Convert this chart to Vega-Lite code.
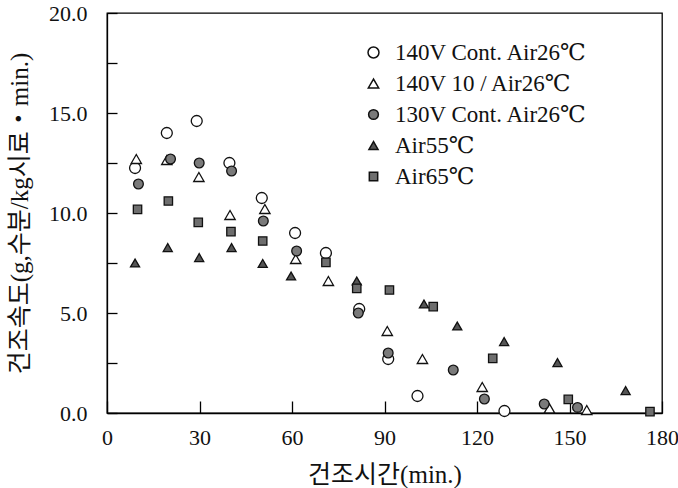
{
  "$schema": "https://vega.github.io/schema/vega-lite/v6.json",
  "width": 555,
  "height": 400,
  "autosize": "none",
  "padding": {"left": 107, "top": 13, "right": 16, "bottom": 75},
  "background": "white",
  "config": {
    "view": {"stroke": "black", "strokeWidth": 1.3},
    "axis": {"labelFont": "Liberation Serif", "titleFont": "Liberation Serif, Noto Sans CJK KR", "labelColor": "#111", "titleColor": "#111", "grid": false, "titleFontWeight": "normal", "labelFlush": false, "domainColor": "black", "domainWidth": 1.3, "tickWidth": 1.3, "tickColor": "black"}
  },
  "data": {
    "values": [
      {"t": 9.1, "r": 12.25, "s": "140V Cont. Air26℃"},
      {"t": 19.4, "r": 14.0, "s": "140V Cont. Air26℃"},
      {"t": 29.1, "r": 14.6, "s": "140V Cont. Air26℃"},
      {"t": 39.7, "r": 12.5, "s": "140V Cont. Air26℃"},
      {"t": 50.2, "r": 10.75, "s": "140V Cont. Air26℃"},
      {"t": 61.0, "r": 9.0, "s": "140V Cont. Air26℃"},
      {"t": 71.0, "r": 8.0, "s": "140V Cont. Air26℃"},
      {"t": 81.8, "r": 5.2, "s": "140V Cont. Air26℃"},
      {"t": 91.2, "r": 2.7, "s": "140V Cont. Air26℃"},
      {"t": 100.7, "r": 0.85, "s": "140V Cont. Air26℃"},
      {"t": 128.9, "r": 0.1, "s": "140V Cont. Air26℃"},
      {"t": 9.5, "r": 12.7, "s": "140V 10 / Air26℃"},
      {"t": 19.4, "r": 12.65, "s": "140V 10 / Air26℃"},
      {"t": 29.8, "r": 11.8, "s": "140V 10 / Air26℃"},
      {"t": 39.9, "r": 9.9, "s": "140V 10 / Air26℃"},
      {"t": 51.2, "r": 10.2, "s": "140V 10 / Air26℃"},
      {"t": 61.2, "r": 7.7, "s": "140V 10 / Air26℃"},
      {"t": 71.8, "r": 6.6, "s": "140V 10 / Air26℃"},
      {"t": 90.9, "r": 4.1, "s": "140V 10 / Air26℃"},
      {"t": 102.3, "r": 2.7, "s": "140V 10 / Air26℃"},
      {"t": 121.7, "r": 1.3, "s": "140V 10 / Air26℃"},
      {"t": 143.5, "r": 0.23, "s": "140V 10 / Air26℃"},
      {"t": 155.6, "r": 0.15, "s": "140V 10 / Air26℃"},
      {"t": 10.2, "r": 11.45, "s": "130V Cont. Air26℃"},
      {"t": 20.6, "r": 12.7, "s": "130V Cont. Air26℃"},
      {"t": 29.9, "r": 12.5, "s": "130V Cont. Air26℃"},
      {"t": 40.4, "r": 12.1, "s": "130V Cont. Air26℃"},
      {"t": 50.7, "r": 9.6, "s": "130V Cont. Air26℃"},
      {"t": 61.5, "r": 8.1, "s": "130V Cont. Air26℃"},
      {"t": 81.5, "r": 5.0, "s": "130V Cont. Air26℃"},
      {"t": 91.2, "r": 3.0, "s": "130V Cont. Air26℃"},
      {"t": 112.3, "r": 2.15, "s": "130V Cont. Air26℃"},
      {"t": 122.4, "r": 0.7, "s": "130V Cont. Air26℃"},
      {"t": 141.8, "r": 0.45, "s": "130V Cont. Air26℃"},
      {"t": 152.6, "r": 0.28, "s": "130V Cont. Air26℃"},
      {"t": 9.1, "r": 7.5, "s": "Air55℃"},
      {"t": 19.7, "r": 8.27, "s": "Air55℃"},
      {"t": 29.9, "r": 7.77, "s": "Air55℃"},
      {"t": 40.4, "r": 8.27, "s": "Air55℃"},
      {"t": 50.5, "r": 7.48, "s": "Air55℃"},
      {"t": 59.7, "r": 6.85, "s": "Air55℃"},
      {"t": 81.0, "r": 6.6, "s": "Air55℃"},
      {"t": 102.8, "r": 5.45, "s": "Air55℃"},
      {"t": 113.6, "r": 4.35, "s": "Air55℃"},
      {"t": 128.8, "r": 3.57, "s": "Air55℃"},
      {"t": 146.1, "r": 2.52, "s": "Air55℃"},
      {"t": 168.2, "r": 1.12, "s": "Air55℃"},
      {"t": 9.9, "r": 10.18, "s": "Air65℃"},
      {"t": 19.9, "r": 10.6, "s": "Air65℃"},
      {"t": 29.6, "r": 9.53, "s": "Air65℃"},
      {"t": 40.2, "r": 9.07, "s": "Air65℃"},
      {"t": 50.5, "r": 8.6, "s": "Air65℃"},
      {"t": 71.0, "r": 7.53, "s": "Air65℃"},
      {"t": 81.0, "r": 6.23, "s": "Air65℃"},
      {"t": 91.6, "r": 6.15, "s": "Air65℃"},
      {"t": 105.8, "r": 5.32, "s": "Air65℃"},
      {"t": 125.1, "r": 2.73, "s": "Air65℃"},
      {"t": 149.6, "r": 0.68, "s": "Air65℃"},
      {"t": 176.1, "r": 0.07, "s": "Air65℃"}
    ]
  },
  "mark": {"type": "point", "filled": true, "stroke": "#111", "strokeWidth": 1.3, "opacity": 1},
  "encoding": {
    "x": {"field": "t", "type": "quantitative", "scale": {"domain": [0, 180], "nice": false},
      "axis": {"orient": "bottom", "values": [0, 30, 60, 90, 120, 150, 180], "tickColor": "black", "tickSize": -12, "labelPadding": 26, "labelFontSize": 22, "title": "건조시간(min.)", "titleFontSize": 25, "titlePadding": 14}},
    "y": {"field": "r", "type": "quantitative", "scale": {"domain": [0, 20], "nice": false},
      "axis": {"orient": "left", "values": [0, 2.5, 5, 7.5, 10, 12.5, 15, 17.5, 20], "tickColor": "black", "labelExpr": "datum.value % 5 == 0 ? format(datum.value, '.1f') : ''", "tickSize": -10, "labelPadding": 30, "labelFontSize": 22, "title": "건조속도(g,수분/kg시료・min.)", "titleFontSize": 25, "titlePadding": 16}},
    "shape": {"field": "s", "type": "nominal", "sort": null,
      "scale": {"domain": ["140V Cont. Air26℃", "140V 10 / Air26℃", "130V Cont. Air26℃", "Air55℃", "Air65℃"], "range": ["circle", "triangle-up", "circle", "triangle-up", "square"]},
      "legend": {"title": null, "orient": "none", "legendX": 255, "legendY": 28, "labelFont": "Liberation Serif, DejaVu Serif", "labelFontSize": 23, "labelColor": "#111", "labelLimit": 400, "rowPadding": 7, "labelOffset": 10,
        "encode": {"symbols": {"update": {"stroke": {"value": "#111"}, "strokeWidth": {"value": 1.3}}}}}},
    "fill": {"field": "s", "type": "nominal", "sort": null,
      "scale": {"domain": ["140V Cont. Air26℃", "140V 10 / Air26℃", "130V Cont. Air26℃", "Air55℃", "Air65℃"], "range": ["white", "white", "#7a7a7a", "#555555", "#6e6e6e"]},
      "legend": {"title": null, "orient": "none", "legendX": 255, "legendY": 28, "labelFont": "Liberation Serif, DejaVu Serif", "labelFontSize": 23, "labelColor": "#111", "labelLimit": 400, "rowPadding": 7, "labelOffset": 10,
        "encode": {"symbols": {"update": {"stroke": {"value": "#111"}, "strokeWidth": {"value": 1.3}}}}}},
    "size": {"field": "s", "type": "nominal", "sort": null,
      "scale": {"domain": ["140V Cont. Air26℃", "140V 10 / Air26℃", "130V Cont. Air26℃", "Air55℃", "Air65℃"], "range": [120, 70, 80, 80, 60]},
      "legend": {"title": null, "orient": "none", "legendX": 255, "legendY": 28, "labelFont": "Liberation Serif, DejaVu Serif", "labelFontSize": 23, "labelColor": "#111", "labelLimit": 400, "rowPadding": 7, "labelOffset": 10,
        "encode": {"symbols": {"update": {"stroke": {"value": "#111"}, "strokeWidth": {"value": 1.3}}}}}}
  }
}
